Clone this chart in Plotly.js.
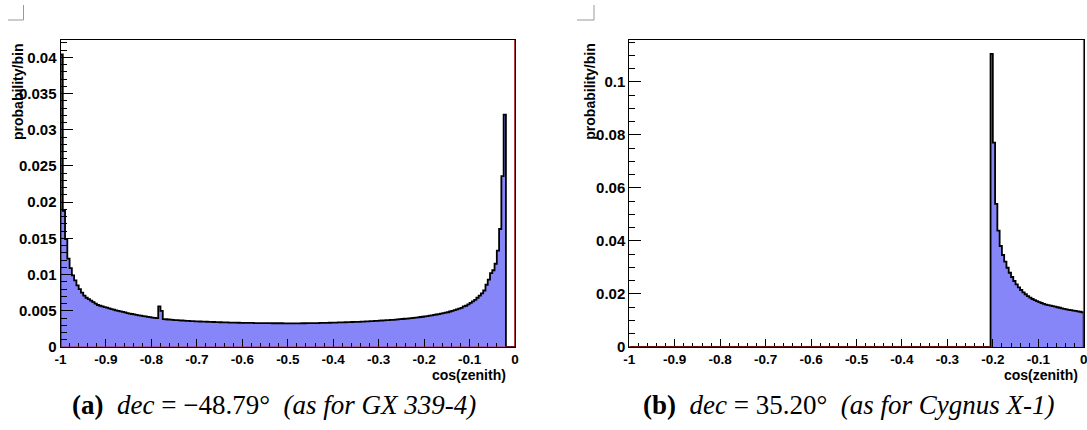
<!DOCTYPE html>
<html>
<head>
<meta charset="utf-8">
<script src="https://cdn.plot.ly/plotly-3.0.1.min.js"></script>
<style>html,body{margin:0;padding:0;background:#fff;}#chart{width:1087px;height:430px;}</style>
</head>
<body>
<div id="chart"></div>
<script>
// ---- data ----
const binLo = -1;
const binHi = 0;

// (a) dec = -48.79 deg : probability per bin, bins of width 0.005 from -1 to 0
const probGX = [
  0.0404, 0.0188, 0.0149, 0.0122, 0.0109, 0.0099, 0.0092, 0.0085, 0.0080, 0.0075,
  0.0071, 0.0068, 0.0066, 0.0064, 0.0062, 0.0060, 0.0058, 0.0057, 0.0056, 0.0055,
  0.00543, 0.00533, 0.00524, 0.00515, 0.00507, 0.00499, 0.00492, 0.00485, 0.00478, 0.00469,
  0.00462, 0.00456, 0.00450, 0.00444, 0.00438, 0.00432, 0.00427, 0.00422, 0.00417, 0.00412,
  0.00407, 0.00402, 0.00398, 0.0056, 0.0050, 0.00386, 0.00383, 0.00380, 0.00377, 0.00375,
  0.00372, 0.00370, 0.00368, 0.00366, 0.00364, 0.00362, 0.00360, 0.00358, 0.00357, 0.00355,
  0.00354, 0.00352, 0.00351, 0.00350, 0.00349, 0.00347, 0.00346, 0.00345, 0.00344, 0.00343,
  0.00342, 0.00341, 0.00340, 0.00339, 0.00338, 0.00337, 0.00337, 0.00336, 0.00335, 0.00334,
  0.00334, 0.00333, 0.00333, 0.00332, 0.00332, 0.00331, 0.00331, 0.00330, 0.00330, 0.00330,
  0.00329, 0.00329, 0.00329, 0.00328, 0.00328, 0.00328, 0.00328, 0.00328, 0.00327, 0.00327,
  0.00327, 0.00327, 0.00327, 0.00327, 0.00327, 0.00327, 0.00328, 0.00328, 0.00329, 0.00329,
  0.00330, 0.00330, 0.00331, 0.00331, 0.00332, 0.00332, 0.00333, 0.00334, 0.00335, 0.00336,
  0.00337, 0.00338, 0.00339, 0.00340, 0.00341, 0.00342, 0.00343, 0.00344, 0.00345, 0.00346,
  0.00347, 0.00348, 0.00350, 0.00351, 0.00353, 0.00354, 0.00356, 0.00358, 0.00360, 0.00362,
  0.00364, 0.00366, 0.00368, 0.00370, 0.00372, 0.00374, 0.00376, 0.00379, 0.00381, 0.00384,
  0.00387, 0.00390, 0.00393, 0.00396, 0.00399, 0.00402, 0.00406, 0.00410, 0.00414, 0.00418,
  0.00422, 0.00427, 0.00432, 0.00437, 0.00443, 0.00449, 0.00455, 0.00461, 0.00468, 0.00475,
  0.0048, 0.0049, 0.0050, 0.0051, 0.0052, 0.0053, 0.0054, 0.0056, 0.0057, 0.0059,
  0.0061, 0.0063, 0.0065, 0.0068, 0.0071, 0.0074, 0.0078, 0.0086, 0.0093, 0.0102,
  0.0106, 0.0115, 0.0133, 0.0163, 0.0236, 0.0321, 0, 0, 0, 0
];

// (b) dec = 35.20 deg
const probCyg = [
  0, 0, 0, 0, 0, 0, 0, 0, 0, 0,
  0, 0, 0, 0, 0, 0, 0, 0, 0, 0,
  0, 0, 0, 0, 0, 0, 0, 0, 0, 0,
  0, 0, 0, 0, 0, 0, 0, 0, 0, 0,
  0, 0, 0, 0, 0, 0, 0, 0, 0, 0,
  0, 0, 0, 0, 0, 0, 0, 0, 0, 0,
  0, 0, 0, 0, 0, 0, 0, 0, 0, 0,
  0, 0, 0, 0, 0, 0, 0, 0, 0, 0,
  0, 0, 0, 0, 0, 0, 0, 0, 0, 0,
  0, 0, 0, 0, 0, 0, 0, 0, 0, 0,
  0, 0, 0, 0, 0, 0, 0, 0, 0, 0,
  0, 0, 0, 0, 0, 0, 0, 0, 0, 0,
  0, 0, 0, 0, 0, 0, 0, 0, 0, 0,
  0, 0, 0, 0, 0, 0, 0, 0, 0, 0,
  0, 0, 0, 0, 0, 0, 0, 0, 0, 0,
  0, 0, 0, 0, 0, 0, 0, 0, 0, 0.1106,
  0.0771, 0.0540, 0.0439, 0.0381, 0.0347, 0.0322, 0.0299, 0.0280, 0.0264, 0.0249,
  0.0236, 0.0225, 0.0215, 0.0206, 0.0199, 0.0192, 0.0186, 0.0181, 0.0177, 0.0173,
  0.0169, 0.0166, 0.0163, 0.0160, 0.0158, 0.0156, 0.0154, 0.0152, 0.0150, 0.0148,
  0.0146, 0.0144, 0.0142, 0.0140, 0.0139, 0.0137, 0.0136, 0.0134, 0.0133, 0.0131
];

const xTickVals = [-1, -0.9, -0.8, -0.7, -0.6, -0.5, -0.4, -0.3, -0.2, -0.1, 0];
const xTickText = ["-1", "-0.9", "-0.8", "-0.7", "-0.6", "-0.5", "-0.4", "-0.3", "-0.2", "-0.1", "0"];
const yTickValsA = [0, 0.005, 0.01, 0.015, 0.02, 0.025, 0.03, 0.035, 0.04];
const yTickTextA = ["0", "0.005", "0.01", "0.015", "0.02", "0.025", "0.03", "0.035", "0.04"];
const yTickValsB = [0, 0.02, 0.04, 0.06, 0.08, 0.1];
const yTickTextB = ["0", "0.02", "0.04", "0.06", "0.08", "0.1"];
const xTitle = "cos(zenith)";
const yTitle = "probability/bin";
const captionA = "<b>(a)</b>  <i>dec</i> = \u221248.79\u00b0  <i>(as for GX 339-4)</i>";
const captionB = "<b>(b)</b>  <i>dec</i> = 35.20\u00b0  <i>(as for Cygnus X-1)</i>";

// ---- helpers ----
const binW = (binHi - binLo) / probGX.length;
const centers = probGX.map((_, i) => binLo + (i + 0.5) * binW);

// outline: vertical/horizontal path along the bin edges, built point by point
function outline(vals) {
  const xs = [binLo], ys = [0];
  for (let i = 0; i < vals.length; i++) {
    const a = binLo + i * binW, b = binLo + (i + 1) * binW;
    xs.push(a, b); ys.push(vals[i], vals[i]);
  }
  xs.push(binHi); ys.push(0);
  return {xs, ys};
}
const bold = arr => arr.map(t => '<b>' + t + '</b>');

const W = 1087, H = 430;
const px = v => v / W;
const py = v => 1 - v / H;

const oA = outline(probGX);
const oB = outline(probCyg);

const FILL = '#8686f8';
const traces = [
  {x: centers, y: probGX, width: binW, xaxis: 'x', yaxis: 'y', type: 'bar',
   marker: {color: FILL, line: {width: 0}}, hoverinfo: 'skip', showlegend: false},
  {x: oA.xs, y: oA.ys, xaxis: 'x', yaxis: 'y', type: 'scatter', mode: 'lines',
   line: {shape: 'linear', color: '#000', width: 1.8, simplify: false}, hoverinfo: 'skip', showlegend: false},
  {x: centers, y: probCyg, width: binW, xaxis: 'x2', yaxis: 'y2', type: 'bar',
   marker: {color: FILL, line: {width: 0}}, hoverinfo: 'skip', showlegend: false},
  {x: oB.xs, y: oB.ys, xaxis: 'x2', yaxis: 'y2', type: 'scatter', mode: 'lines',
   line: {shape: 'linear', color: '#000', width: 1.8, simplify: false}, hoverinfo: 'skip', showlegend: false}
];

const SANS = 'Liberation Sans, Arial, Helvetica, sans-serif';
const tickFontX = {family: SANS, size: 13.5, color: '#000'};
const tickFontY = {family: SANS, size: 15, color: '#000'};

function xAx(dom, anchor) {
  return {
    domain: dom, anchor: anchor, range: [binLo, binHi], autorange: false,
    tickmode: 'array', tickvals: xTickVals, ticktext: bold(xTickText),
    ticks: 'inside', ticklen: 8, tickwidth: 1, tickcolor: '#000',
    minor: {ticks: 'inside', ticklen: 4, tickwidth: 1, tickcolor: '#000', dtick: 0.02, tick0: -1, showgrid: false},
    showline: true, linecolor: '#000', linewidth: 1, mirror: true, ticklabeloverflow: 'allow',
    showgrid: false, zeroline: false, tickfont: tickFontX, fixedrange: true
  };
}
function yAx(dom, anchor, top, tv, tt, mdt) {
  return {
    domain: dom, anchor: anchor, range: [0, top], autorange: false,
    tickmode: 'array', tickvals: tv, ticktext: bold(tt),
    ticks: 'inside', ticklen: 12, tickwidth: 1, tickcolor: '#000',
    minor: {ticks: 'inside', ticklen: 6, tickwidth: 1, tickcolor: '#000', dtick: mdt, tick0: 0, showgrid: false},
    showline: true, linecolor: '#000', linewidth: 1, mirror: true, ticklabeloverflow: 'allow',
    showgrid: false, zeroline: false, tickfont: tickFontY, fixedrange: true
  };
}

const yDom = [py(347), py(40)];
const layout = {
  width: W, height: H,
  margin: {l: 0, r: 0, t: 0, b: 0, pad: 0},
  paper_bgcolor: '#fff', plot_bgcolor: '#fff',
  showlegend: false, barmode: 'overlay', bargap: 0,
  xaxis: xAx([px(60.5), px(515)], 'y'),
  yaxis: yAx(yDom, 'x', 0.0424, yTickValsA, yTickTextA, 0.001),
  xaxis2: xAx([px(629.3), px(1083.7)], 'y2'),
  yaxis2: yAx(yDom, 'x2', 0.1158, yTickValsB, yTickTextB, 0.005),
  shapes: [
    // red (empty) overlay histogram outline: along zero and up the right edge
    {type: 'line', xref: 'x', yref: 'y', x0: binLo, x1: binHi, y0: 0, y1: 0, line: {color: '#c02060', width: 1}, layer: 'above'},
    {type: 'line', xref: 'x', yref: 'y domain', x0: binHi, x1: binHi, y0: 0, y1: 1, line: {color: '#a00000', width: 1.5}, layer: 'above'},
    {type: 'line', xref: 'x2', yref: 'y2', x0: binLo, x1: -0.205, y0: 0, y1: 0, line: {color: '#d02020', width: 1.2}, layer: 'above'},
    {type: 'line', xref: 'x2', yref: 'y2 domain', x0: binHi, x1: binHi, y0: 0, y1: 1, line: {color: '#a00000', width: 1.5}, layer: 'above'},
    // crop marks
    {type: 'line', xref: 'paper', yref: 'paper', x0: px(8), x1: px(23.5), y0: py(20), y1: py(20), line: {color: '#999', width: 1}},
    {type: 'line', xref: 'paper', yref: 'paper', x0: px(23.5), x1: px(23.5), y0: py(5), y1: py(20), line: {color: '#999', width: 1}},
    {type: 'line', xref: 'paper', yref: 'paper', x0: px(577), x1: px(594), y0: py(20), y1: py(20), line: {color: '#999', width: 1}},
    {type: 'line', xref: 'paper', yref: 'paper', x0: px(594), x1: px(594), y0: py(5), y1: py(20), line: {color: '#999', width: 1}}
  ],
  annotations: [
    {text: '<b>' + yTitle + '</b>', xref: 'paper', yref: 'paper', x: px(17.3), y: py(91.7), xanchor: 'center', yanchor: 'middle',
     textangle: -90, showarrow: false, font: {family: SANS, size: 14, color: '#000'}},
    {text: '<b>' + yTitle + '</b>', xref: 'paper', yref: 'paper', x: px(590), y: py(91.7), xanchor: 'center', yanchor: 'middle',
     textangle: -90, showarrow: false, font: {family: SANS, size: 14, color: '#000'}},
    {text: '<b>' + xTitle + '</b>', xref: 'paper', yref: 'paper', x: px(508), y: py(375), xanchor: 'right', yanchor: 'middle',
     showarrow: false, font: {family: SANS, size: 14, color: '#000'}},
    {text: '<b>' + xTitle + '</b>', xref: 'paper', yref: 'paper', x: px(1080), y: py(375), xanchor: 'right', yanchor: 'middle',
     showarrow: false, font: {family: SANS, size: 14, color: '#000'}},
    {text: captionA, xref: 'paper', yref: 'paper', x: px(274), y: py(405), xanchor: 'center', yanchor: 'middle',
     showarrow: false, font: {family: 'Liberation Serif, DejaVu Serif, serif', size: 27, color: '#000'}},
    {text: captionB, xref: 'paper', yref: 'paper', x: px(848), y: py(405), xanchor: 'center', yanchor: 'middle',
     showarrow: false, font: {family: 'Liberation Serif, DejaVu Serif, serif', size: 27, color: '#000'}}
  ]
};

Plotly.newPlot('chart', traces, layout, {staticPlot: true, displayModeBar: false});
</script>
</body>
</html>
